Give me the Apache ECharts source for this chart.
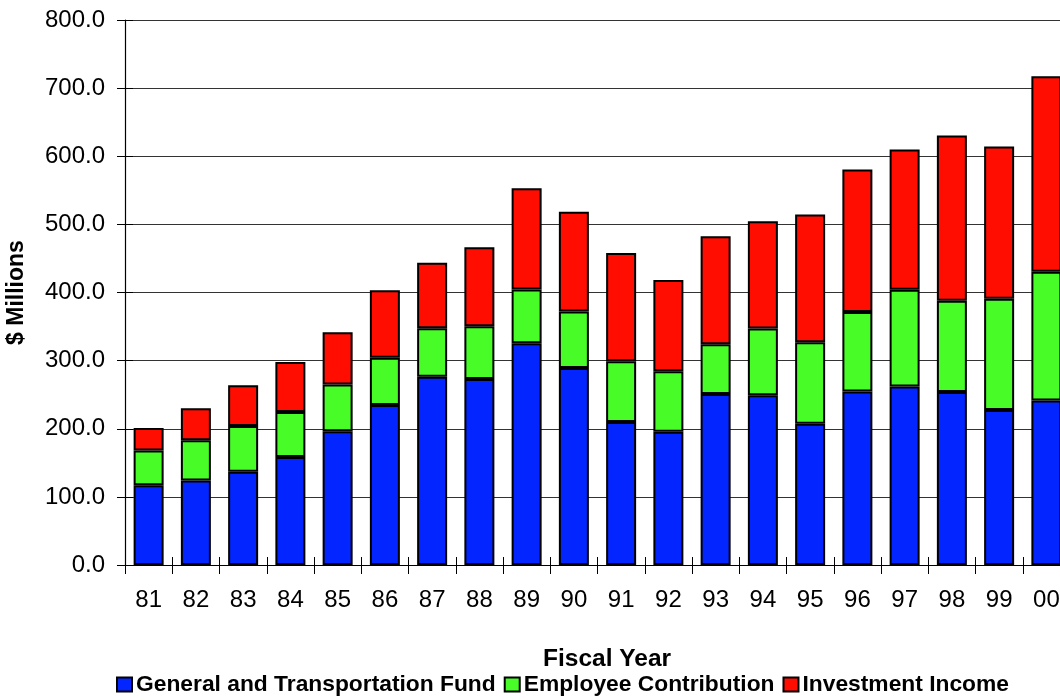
<!DOCTYPE html>
<html>
<head>
<meta charset="utf-8">
<script src="https://cdn.jsdelivr.net/npm/echarts@6/dist/echarts.min.js"></script>
<style>
  html, body { margin: 0; padding: 0; background: #fff; }
  #chart { width: 1060px; height: 700px; }
</style>
</head>
<body>
<div id="chart"></div>
<script>
// Fiscal years 1981 - 2000
const years = ['81','82','83','84','85','86','87','88','89','90','91','92','93','94','95','96','97','98','99','00'];

// Funding sources, $ millions
const generalTransportation = [117, 124, 137, 158.6, 196.5, 234.8, 276.5, 273, 325.5, 289, 210, 195.5, 251, 249, 207.3, 254.5, 262, 254, 227.7, 241.6];
const employeeContribution  = [51, 59, 67, 66, 68.5, 69.6, 71, 77.5, 79, 83, 89, 89, 73, 98, 119.6, 117, 142, 134, 163, 189];
const investmentIncome      = [33, 47, 60, 73.4, 76.5, 99, 96, 116, 148.5, 146.5, 159, 134, 158.5, 157.5, 187.5, 209, 206, 242.5, 223.5, 287];

const seriesNames = ['General and Transportation Fund', 'Employee Contribution', 'Investment Income'];
const seriesColors = ['#0325ff', '#47fc27', '#fe0d00'];

const FONT = '"Liberation Sans", Arial, sans-serif';
// plot area runs past the right edge of the canvas, so the last bar is clipped
const gridRect = { left: 125, top: 20, width: 945, height: 545, outerBoundsMode: 'none', containLabel: false };

const chart = echarts.init(document.getElementById('chart'), null, { renderer: 'canvas' });

function barSeries(i, data) {
  return {
    name: seriesNames[i],
    type: 'bar',
    stack: 'total',
    data: data,
    barWidth: 30,
    xAxisIndex: 0,
    yAxisIndex: 0,
    itemStyle: { color: seriesColors[i], borderColor: '#000', borderWidth: 2 },
    emphasis: { disabled: true }
  };
}

chart.setOption({
  animation: false,
  backgroundColor: '#fff',
  title: {
    text: 'Fiscal Year',
    left: 543,
    top: 647,
    padding: 0,
    textStyle: { fontFamily: FONT, fontSize: 24.5, fontWeight: 'bold', color: '#000' }
  },
  legend: {
    data: seriesNames,
    left: 116,
    top: 673,
    padding: 0,
    icon: 'rect',
    itemWidth: 15,
    itemHeight: 14,
    itemGap: 8,
    textStyle: { fontFamily: FONT, fontSize: 22.8, fontWeight: 'bold', color: '#000', padding: [0, 0, 0, -1] }
  },
  grid: [
    Object.assign({}, gridRect),
    Object.assign({}, gridRect)
  ],
  xAxis: [
    {
      type: 'category',
      gridIndex: 0,
      data: years,
      axisLine: { lineStyle: { color: '#000', width: 1.2 } },
      axisTick: { show: true, inside: false, length: 9, lineStyle: { color: '#000' } },
      axisLabel: { fontFamily: FONT, fontSize: 24, color: '#000', margin: 23 }
    },
    {
      // inner half of the tick marks that cross the category axis
      type: 'category',
      gridIndex: 1,
      data: years,
      axisLine: { show: false },
      axisTick: { show: true, inside: true, length: 8, lineStyle: { color: '#000' } },
      axisLabel: { show: false }
    }
  ],
  yAxis: [
    {
      type: 'value',
      gridIndex: 0,
      min: 0,
      max: 800,
      interval: 100,
      name: '$ Millions',
      nameLocation: 'middle',
      nameGap: 97,
      nameRotate: 90,
      nameTextStyle: { fontFamily: FONT, fontSize: 23, fontWeight: 'bold', color: '#000' },
      axisLine: { show: true, lineStyle: { color: '#000', width: 1.2 } },
      axisTick: { show: true, inside: false, length: 8, lineStyle: { color: '#000' } },
      axisLabel: { fontFamily: FONT, fontSize: 24, color: '#000', margin: 20, formatter: v => v.toFixed(1) },
      splitLine: { show: true, lineStyle: { color: '#333', width: 1 } }
    },
    {
      // inner half of the tick marks that cross the value axis
      type: 'value',
      gridIndex: 1,
      min: 0,
      max: 800,
      interval: 100,
      axisLine: { show: false },
      axisTick: { show: true, inside: true, length: 8, lineStyle: { color: '#000' } },
      axisLabel: { show: false },
      splitLine: { show: false }
    }
  ],
  series: [
    barSeries(0, generalTransportation),
    barSeries(1, employeeContribution),
    barSeries(2, investmentIncome)
  ]
});
</script>
</body>
</html>
